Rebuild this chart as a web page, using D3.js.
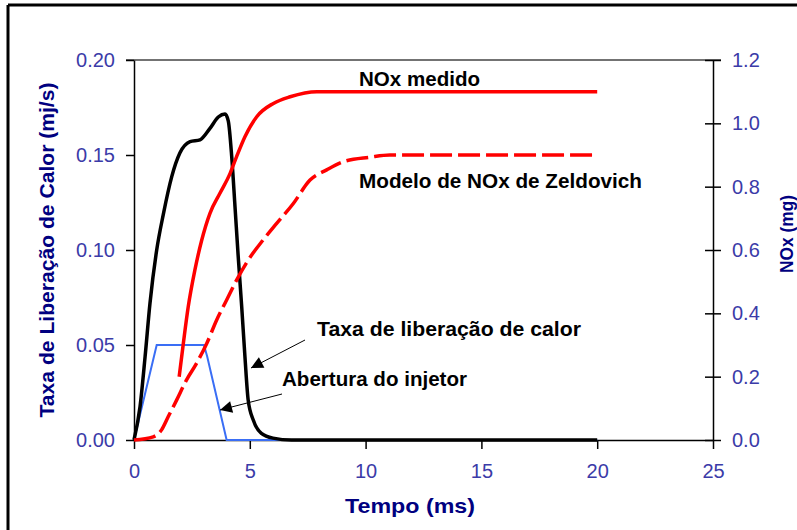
<!DOCTYPE html>
<html>
<head>
<meta charset="utf-8">
<script src="https://cdn.jsdelivr.net/npm/d3@7"></script>
<style>
  body { margin: 0; background: #fff; }
  text { font-family: "Liberation Sans", Arial, sans-serif; }
</style>
</head>
<body>
<div id="frame"></div>
<script>
// taxa de liberacao de calor (mj/s), eixo esquerdo
var tempoCalor = [0, 0.26, 0.48, 0.69, 0.98, 1.27, 1.63, 1.98, 2.42, 2.85, 3.28, 3.64, 3.93, 4.07, 4.22, 4.36, 4.5, 4.65, 4.79, 4.93, 5.15, 5.5, 6.0, 6.8, 20];
var taxaCalor  = [0, 0.0175, 0.044, 0.072, 0.1, 0.119, 0.1386, 0.151, 0.157, 0.158, 0.164, 0.170, 0.1716, 0.168, 0.149, 0.123, 0.0965, 0.0702, 0.0439, 0.021, 0.0105, 0.0035, 0.001, 0, 0];

// abertura do injetor, eixo esquerdo
var tempoInjetor = [0, 0.98, 3.02, 3.16, 4.0, 20];
var abertura     = [0, 0.05, 0.05, 0.044, 0, 0];

// NOx medido (mg), eixo direito
var tempoNox  = [1.95, 2.13, 2.34, 2.63, 2.92, 3.28, 3.71, 4.15, 4.43, 4.79, 5.3, 6.02, 6.74, 7.9, 12, 20];
var noxMedido = [0.2, 0.305, 0.42, 0.537, 0.63, 0.716, 0.779, 0.842, 0.895, 0.958, 1.021, 1.063, 1.084, 1.1, 1.1, 1.1];

// modelo de NOx de Zeldovich (mg), eixo direito
var tempoZeld = [0, 0.83, 1.19, 1.48, 1.84, 2.27, 2.7, 3.14, 3.57, 4.0, 4.43, 4.93, 5.58, 6.16, 6.88, 7.6, 8.32, 9.04, 10.19, 11.05, 20];
var noxZeld   = [0, 0.01, 0.032, 0.074, 0.126, 0.19, 0.242, 0.305, 0.379, 0.442, 0.505, 0.568, 0.632, 0.684, 0.747, 0.821, 0.853, 0.879, 0.893, 0.9, 0.9];

var xTicks = [0, 5, 10, 15, 20, 25];
var yLeftTicks = [0, 0.05, 0.10, 0.15, 0.20];
var yRightTicks = [0, 0.2, 0.4, 0.6, 0.8, 1.0, 1.2];

var width = 797, height = 530;
var plotLeft = 134, plotRight = 713, plotTop = 60, plotBottom = 440;

var svg = d3.select('#frame').append('svg').attr('width', width).attr('height', height);

// moldura externa
svg.append('line').attr('x1', 8).attr('y1', 5).attr('x2', width).attr('y2', 5)
  .attr('stroke', '#000').attr('stroke-width', 3);
svg.append('line').attr('x1', 8).attr('y1', 5).attr('x2', 8).attr('y2', height)
  .attr('stroke', '#000').attr('stroke-width', 3);

var x = d3.scaleLinear().domain([0, 25]).range([plotLeft, plotRight]);
var yL = d3.scaleLinear().domain([0, 0.2]).range([plotBottom, plotTop]);
var yR = d3.scaleLinear().domain([0, 1.2]).range([plotBottom, plotTop]);

var tickColor = '#3b3ba8';

// linha superior da area do grafico
svg.append('line').attr('x1', plotLeft - 8).attr('y1', plotTop).attr('x2', plotRight + 8).attr('y2', plotTop)
  .attr('stroke', '#444').attr('stroke-width', 1.5);

var gL = svg.append('g').attr('transform', 'translate(' + plotLeft + ',0)')
  .call(d3.axisLeft(yL).tickValues(yLeftTicks).tickFormat(d3.format('.2f')).tickSize(8).tickSizeOuter(0).tickPadding(11));

var gR = svg.append('g').attr('transform', 'translate(' + plotRight + ',0)')
  .call(d3.axisRight(yR).tickValues(yRightTicks).tickFormat(d3.format('.1f')).tickSize(8).tickSizeOuter(0).tickPadding(11));
gR.selectAll('.tick line').attr('x1', -8);

var gB = svg.append('g').attr('transform', 'translate(0,' + plotBottom + ')')
  .call(d3.axisBottom(x).tickValues(xTicks).tickSize(9).tickSizeOuter(0).tickPadding(15));

[gL, gR, gB].forEach(function(g) {
  g.selectAll('.domain').attr('stroke', '#000').attr('stroke-width', 1.5);
  g.selectAll('.tick line').attr('stroke', '#000').attr('stroke-width', 1.5);
  g.selectAll('.tick text').attr('fill', tickColor)
    .style('font-family', '"Liberation Sans", Arial, sans-serif').style('font-size', '20px');
});

// curvas
var lineL = d3.line().x(function(d) { return x(d[0]); }).y(function(d) { return yL(d[1]); });
var lineR = d3.line().x(function(d) { return x(d[0]); }).y(function(d) { return yR(d[1]); })
  .curve(d3.curveMonotoneX);

svg.append('path').datum(d3.zip(tempoInjetor, abertura))
  .attr('d', lineL).attr('fill', 'none').attr('stroke', '#3a6ef5').attr('stroke-width', 2);

svg.append('path').datum(d3.zip(tempoCalor, taxaCalor))
  .attr('d', lineL.curve(d3.curveMonotoneX)).attr('fill', 'none')
  .attr('stroke', '#000').attr('stroke-width', 3.5);

svg.append('path').datum(d3.zip(tempoZeld, noxZeld))
  .attr('d', lineR).attr('fill', 'none').attr('stroke', '#ff0000')
  .attr('stroke-width', 3.5).attr('stroke-dasharray', '22,6');

svg.append('path').datum(d3.zip(tempoNox, noxMedido))
  .attr('d', lineR).attr('fill', 'none').attr('stroke', '#ff0000').attr('stroke-width', 3.5);

// textos
function label(txt, tx, ty, len) {
  svg.append('text').attr('x', tx).attr('y', ty)
    .attr('font-size', '20px').attr('font-weight', 'bold').attr('fill', '#000')
    .attr('textLength', len).attr('lengthAdjust', 'spacingAndGlyphs')
    .text(txt);
}
label('NOx medido', 359, 86, 121);
label('Modelo de NOx de Zeldovich', 359, 188, 283);
label('Taxa de liberação de calor', 317, 336, 264);
label('Abertura do injetor', 282, 386, 185);

// setas
svg.append('defs').append('marker')
  .attr('id', 'seta').attr('viewBox', '0 0 10 10').attr('refX', 10).attr('refY', 5)
  .attr('markerWidth', 14).attr('markerHeight', 12).attr('markerUnits', 'userSpaceOnUse')
  .attr('orient', 'auto')
  .append('path').attr('d', 'M0,0 L10,5 L0,10 Z').attr('fill', '#000');

svg.append('line').attr('x1', 305).attr('y1', 340).attr('x2', 251).attr('y2', 368)
  .attr('stroke', '#000').attr('stroke-width', 1).attr('marker-end', 'url(#seta)');
svg.append('line').attr('x1', 282).attr('y1', 394).attr('x2', 220).attr('y2', 410)
  .attr('stroke', '#000').attr('stroke-width', 1).attr('marker-end', 'url(#seta)');

// titulos dos eixos
svg.append('text').attr('transform', 'translate(54,250) rotate(-90)')
  .attr('text-anchor', 'middle').attr('font-size', '20px').attr('font-weight', 'bold')
  .attr('fill', '#000080').attr('textLength', 335).attr('lengthAdjust', 'spacingAndGlyphs')
  .text('Taxa de Liberação de Calor (mj/s)');

svg.append('text').attr('transform', 'translate(793,234) rotate(-90)')
  .attr('text-anchor', 'middle').attr('font-size', '18px').attr('font-weight', 'bold')
  .attr('fill', '#000080').attr('textLength', 78).attr('lengthAdjust', 'spacingAndGlyphs')
  .text('NOx (mg)');

svg.append('text').attr('x', 410).attr('y', 513)
  .attr('text-anchor', 'middle').attr('font-size', '21px').attr('font-weight', 'bold')
  .attr('fill', '#000080').attr('textLength', 130).attr('lengthAdjust', 'spacingAndGlyphs')
  .text('Tempo (ms)');
</script>
</body>
</html>
